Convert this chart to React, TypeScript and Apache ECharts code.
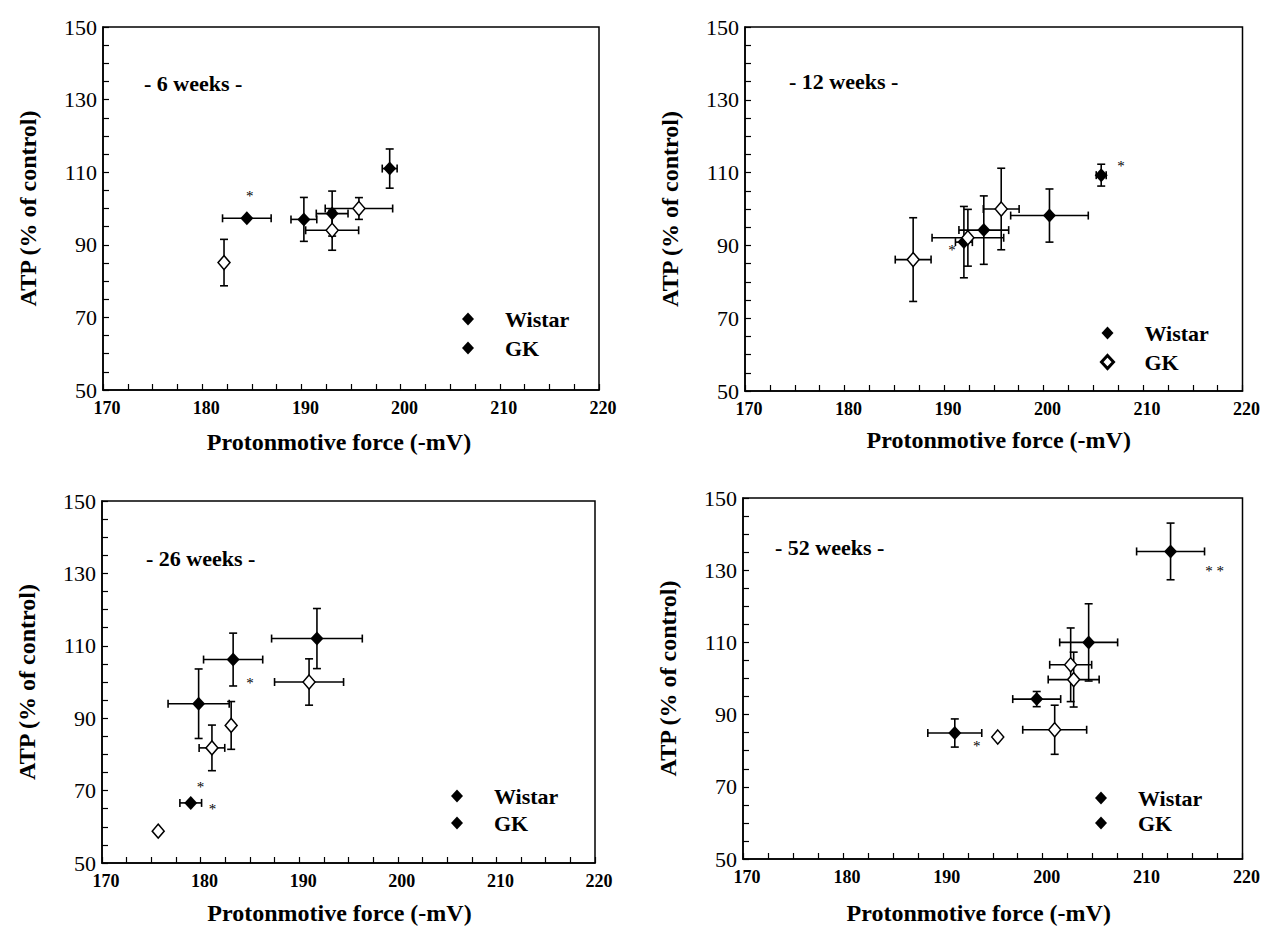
import React, { useEffect, useRef } from "react";
import * as echarts from "echarts";

const F = "Liberation Serif, Times New Roman, serif";

// [x (mV), y (% of control), x error, y error]
const wistar6 = [[184.5, 97.3, 2.45, 0], [190.25, 97.0, 1.3, 6.05], [193.1, 98.6, 1.6, 6.2], [198.9, 111.0, 0.75, 5.4]];
const gk6 = [[182.2, 85.1, 0, 6.4], [193.1, 94.0, 2.67, 5.5], [195.8, 100.0, 3.4, 3.0]];
const wistar12 = [[192.0, 90.9, 0.85, 9.8], [194.0, 94.2, 2.5, 9.4], [200.6, 98.2, 3.9, 7.3], [205.8, 109.3, 0.5, 3.0]];
const gk12 = [[186.9, 86.1, 1.8, 11.5], [192.4, 92.1, 3.6, 7.8], [195.75, 100.0, 1.8, 11.2]];
const wistar26 = [[179.0, 66.6, 1.1, 0], [179.8, 94.0, 3.1, 9.6], [183.3, 106.2, 3.0, 7.3], [191.8, 112.0, 4.6, 8.3]];
const gk26 = [[175.7, 58.8, 0, 0], [181.15, 81.8, 1.3, 6.3], [183.1, 88.0, 0, 6.6], [191.0, 100.0, 3.5, 6.4]];
const wistar52 = [[191.2, 84.9, 2.7, 3.9], [199.4, 94.3, 2.4, 2.1], [204.6, 110.0, 2.9, 10.7], [212.8, 135.2, 3.4, 7.85]];
const gk52 = [[195.5, 83.8, 0, 0], [201.2, 85.8, 3.2, 6.8], [203.1, 99.7, 2.55, 7.6], [202.8, 103.8, 2.1, 10.2]];

// significance marks [x, y, text]
const marks6 = [[184.8, 103.4, "*"]];
const marks12 = [[207.8, 111.8, "*"], [190.8, 88.7, "*"]];
const marks26 = [[185.0, 99.7, "*"], [180.0, 71.0, "*"], [181.2, 65.0, "*"]];
const marks52 = [[217.2, 129.9, "* *"], [193.4, 81.2, "*"]];

const panelTitles = ["- 6 weeks -", "- 12 weeks -", "- 26 weeks -", "- 52 weeks -"];
const xTitle = "Protonmotive force (-mV)";
const yTitle = "ATP (% of control)";

const panels = [
  { w: wistar6, g: gk6, m: marks6 },
  { w: wistar12, g: gk12, m: marks12 },
  { w: wistar26, g: gk26, m: marks26 },
  { w: wistar52, g: gk52, m: marks52 },
];

const grids = [
  { left: 103, top: 27, width: 496, height: 363 },
  { left: 745, top: 27, width: 498, height: 364 },
  { left: 102, top: 501, width: 493, height: 362 },
  { left: 743, top: 498, width: 500, height: 361 },
];
const xNameGaps = [40, 37, 38, 42];
// horizontal nudge of the x-axis title (positive = right)
const xNameShift = [-12, 5, -9, -14];
const titlePos = [
  { left: 144, top: 72 },
  { left: 789, top: 70 },
  { left: 146, top: 547 },
  { left: 775, top: 536 },
];
const legendPos = [
  { left: 462, top: 308, gap: 7 },
  { left: 1100, top: 322, gap: 7 },
  { left: 451, top: 785, gap: 5 },
  { left: 1095, top: 787, gap: 3 },
];

function errorBars(params: any, api: any) {
  const x = api.value(0);
  const y = api.value(1);
  const ex = api.value(2);
  const ey = api.value(3);
  const cap = 4;
  const st = { stroke: "#000", lineWidth: 1.6 };
  const ch: any[] = [];
  if (ex > 0) {
    const l = api.coord([x - ex, y]);
    const r = api.coord([x + ex, y]);
    ch.push({ type: "line", shape: { x1: l[0], y1: l[1], x2: r[0], y2: r[1] }, style: st });
    ch.push({ type: "line", shape: { x1: l[0], y1: l[1] - cap, x2: l[0], y2: l[1] + cap }, style: st });
    ch.push({ type: "line", shape: { x1: r[0], y1: r[1] - cap, x2: r[0], y2: r[1] + cap }, style: st });
  }
  if (ey > 0) {
    const t = api.coord([x, y + ey]);
    const b = api.coord([x, y - ey]);
    ch.push({ type: "line", shape: { x1: t[0], y1: t[1], x2: b[0], y2: b[1] }, style: st });
    ch.push({ type: "line", shape: { x1: t[0] - cap, y1: t[1], x2: t[0] + cap, y2: t[1] }, style: st });
    ch.push({ type: "line", shape: { x1: b[0] - cap, y1: b[1], x2: b[0] + cap, y2: b[1] }, style: st });
  }
  return { type: "group", children: ch };
}

function markText(params: any, api: any) {
  const c = api.coord([api.value(0), api.value(1)]);
  return {
    type: "text",
    x: c[0],
    y: c[1],
    style: {
      text: String(api.value(2)),
      fill: "#000",
      font: "15px " + F,
      align: "center",
      verticalAlign: "middle",
    },
  };
}

function buildOption() {
  const xAxes: any[] = [];
  const yAxes: any[] = [];
  const series: any[] = [];
  const titles: any[] = [];
  const legends: any[] = [];
  panels.forEach((p, i) => {
    const sh = xNameShift[i];
    xAxes.push({
      type: "value",
      gridIndex: i,
      min: 170,
      max: 220,
      interval: 2.5,
      name: xTitle,
      nameLocation: "middle",
      nameGap: xNameGaps[i],
      nameTextStyle: {
        fontFamily: F,
        fontWeight: "bold",
        fontSize: 24,
        color: "#000",
        padding: sh >= 0 ? [0, 0, 0, 2 * sh] : [0, -2 * sh, 0, 0],
      },
      axisLine: { show: true, lineStyle: { color: "#000", width: 1.5 } },
      axisTick: { show: true, inside: true, length: 6, lineStyle: { color: "#000", width: 1.2 } },
      axisLabel: {
        formatter: (v: number) => (Math.abs(v % 10) < 1e-6 ? String(v) : ""),
        fontFamily: F,
        fontSize: 18,
        fontWeight: "bold",
        color: "#000",
        margin: 9,
        padding: [0, 0, 0, 8],
      },
      splitLine: { show: false },
    });
    yAxes.push({
      type: "value",
      gridIndex: i,
      min: 50,
      max: 150,
      interval: 5,
      name: yTitle,
      nameLocation: "middle",
      nameGap: 63,
      nameRotate: 90,
      nameTextStyle: { fontFamily: F, fontWeight: "bold", fontSize: 24, color: "#000" },
      axisLine: { show: true, lineStyle: { color: "#000", width: 1.5 } },
      axisTick: { show: true, inside: true, length: 6, lineStyle: { color: "#000", width: 1.2 } },
      axisLabel: {
        formatter: (v: number) => (Math.abs((v - 50) % 20) < 1e-6 ? String(v) : ""),
        fontFamily: F,
        fontSize: 22,
        color: "#000",
        margin: 6,
      },
      splitLine: { show: false },
    });
    series.push({
      type: "custom",
      xAxisIndex: i,
      yAxisIndex: i,
      renderItem: errorBars,
      encode: { x: 0, y: 1 },
      data: [...p.w, ...p.g],
      z: 1,
      silent: true,
    });
    series.push({
      type: "scatter",
      name: "Wistar",
      xAxisIndex: i,
      yAxisIndex: i,
      symbol: "diamond",
      symbolSize: [13, 14],
      itemStyle: { color: "#000", opacity: 1 },
      data: p.w.map((d) => [d[0], d[1]]),
      z: 3,
    });
    series.push({
      type: "scatter",
      name: "GK",
      xAxisIndex: i,
      yAxisIndex: i,
      symbol: "diamond",
      symbolSize: [12, 14],
      itemStyle: { color: "#fff", borderColor: "#000", borderWidth: 1.5, opacity: 1 },
      data: p.g.map((d) => [d[0], d[1]]),
      z: 3,
    });
    series.push({
      type: "custom",
      xAxisIndex: i,
      yAxisIndex: i,
      renderItem: markText,
      encode: { x: 0, y: 1 },
      dimensions: ["x", "y", { name: "t", type: "ordinal" }],
      data: p.m,
      silent: true,
      z: 4,
    });
    titles.push({
      text: panelTitles[i],
      left: titlePos[i].left,
      top: titlePos[i].top,
      padding: 0,
      textStyle: { fontFamily: F, fontWeight: "bold", fontSize: 22, color: "#000" },
    });
    legends.push({
      orient: "vertical",
      left: legendPos[i].left,
      top: legendPos[i].top,
      padding: 0,
      itemGap: legendPos[i].gap,
      itemWidth: 12,
      itemHeight: 13,
      selectedMode: false,
      textStyle: {
        fontFamily: F,
        fontWeight: "bold",
        fontSize: 22,
        color: "#000",
        lineHeight: 22,
        padding: [0, 0, 0, 26],
      },
      data: [
        { name: "Wistar", itemStyle: { color: "#000", borderWidth: 0, opacity: 1 } },
        i === 1
          ? { name: "GK", itemStyle: { color: "#fff", borderColor: "#000", borderWidth: 3, opacity: 1 } }
          : { name: "GK", itemStyle: { color: "#000", borderWidth: 0, opacity: 1 } },
      ],
    });
  });
  return {
    animation: false,
    backgroundColor: "#fff",
    title: titles,
    legend: legends,
    grid: grids.map((g) => ({ ...g, show: true, borderColor: "#000", borderWidth: 1.5, backgroundColor: "transparent" })),
    xAxis: xAxes,
    yAxis: yAxes,
    series,
  };
}

export default function App() {
  const ref = useRef<HTMLDivElement>(null);
  useEffect(() => {
    if (!ref.current) return;
    const chart = echarts.init(ref.current, null, { renderer: "svg" });
    chart.setOption(buildOption() as any);
    return () => chart.dispose();
  }, []);
  return (
    <div
      ref={ref}
      style={{ position: "fixed", left: 0, top: 0, width: 1263, height: 926, background: "#fff" }}
    />
  );
}
